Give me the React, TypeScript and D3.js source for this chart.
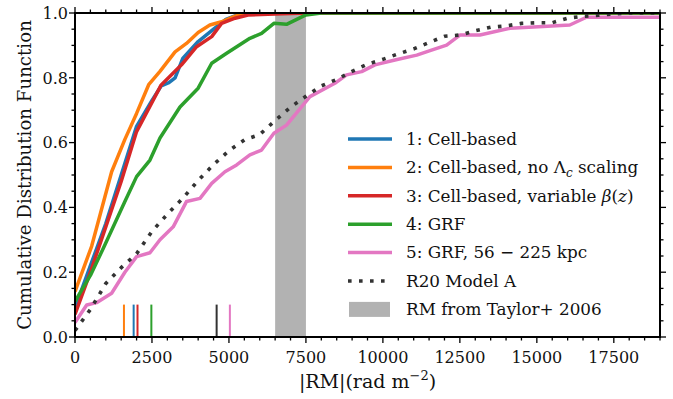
import React from "react";
import * as d3 from "d3";

// |RM| (rad m^-2) vs cumulative fraction
const cellBased: [number, number][] = [
  [0, 0.09], [500, 0.22], [1000, 0.35], [1500, 0.5], [2000, 0.65], [2500, 0.73],
  [2800, 0.775], [3050, 0.785], [3250, 0.8], [3500, 0.86], [4000, 0.912],
  [4500, 0.95], [4900, 0.98], [5300, 0.995], [5700, 1.0], [19000, 1.0],
];
const cellNoScaling: [number, number][] = [
  [0, 0.14], [540, 0.28], [1190, 0.51], [1620, 0.61], [2000, 0.69], [2400, 0.78],
  [2760, 0.82], [3250, 0.88], [3620, 0.906], [4000, 0.94], [4380, 0.963],
  [4760, 0.973], [5200, 0.99], [5600, 1.0], [19000, 1.0],
];
const cellVarBeta: [number, number][] = [
  [0, 0.07], [500, 0.2], [1000, 0.34], [1500, 0.48], [2000, 0.634], [2800, 0.778],
  [3460, 0.84], [3950, 0.896], [4440, 0.927], [4760, 0.968], [5200, 0.984],
  [5620, 0.994], [6500, 0.997], [7500, 1.0], [19000, 1.0],
];
const grf: [number, number][] = [
  [0, 0.11], [500, 0.19], [920, 0.274], [1620, 0.418], [2000, 0.495], [2435, 0.546],
  [2760, 0.614], [3410, 0.71], [4000, 0.768], [4440, 0.845], [4925, 0.876],
  [5680, 0.922], [6060, 0.937], [6460, 0.968], [6870, 0.965], [7500, 0.994],
  [8000, 1.0], [19000, 1.0],
];
const grfKpc: [number, number][] = [
  [0, 0.045], [380, 0.099], [700, 0.106], [1190, 0.135], [1620, 0.2], [2000, 0.248],
  [2435, 0.26], [2760, 0.3], [3190, 0.34], [3620, 0.418], [4060, 0.428],
  [4440, 0.474], [4870, 0.51], [5250, 0.531], [5680, 0.562], [6060, 0.577],
  [6460, 0.629], [6870, 0.654], [7630, 0.742], [8440, 0.783], [8820, 0.809],
  [9310, 0.819], [9740, 0.84], [10390, 0.855], [11100, 0.87], [11530, 0.884],
  [12070, 0.901], [12500, 0.932], [13150, 0.932], [14130, 0.953], [15200, 0.958],
  [16070, 0.963], [16610, 0.987], [19000, 0.987],
];
const r20ModelA: [number, number][] = [
  [0, 0.02], [500, 0.085], [1000, 0.165], [1500, 0.214], [2000, 0.257],
  [2500, 0.326], [3000, 0.379], [3500, 0.428], [4000, 0.483], [4500, 0.532],
  [5000, 0.575], [5500, 0.608], [6000, 0.625], [6500, 0.668], [7000, 0.709],
  [7500, 0.743], [8000, 0.775], [8500, 0.795], [9000, 0.82], [9500, 0.842],
  [10000, 0.857], [10500, 0.874], [11000, 0.889], [11500, 0.909], [12000, 0.928],
  [12500, 0.932], [13000, 0.945], [13500, 0.956], [14000, 0.96], [14500, 0.968],
  [15000, 0.97], [15500, 0.97], [16000, 0.984], [16500, 0.99], [17000, 0.993],
  [17500, 0.997], [18000, 1.0], [19000, 1.0],
];

// median markers along the bottom
const medians = [1905, 1590, 2030, 2480, 5030, 4600];
const taylorRange = [6500, 7500];

const seriesColors = ["#1f77b4", "#ff7f0e", "#d62728", "#2ca02c", "#e377c2", "#333333"];
const seriesData = [cellBased, cellNoScaling, cellVarBeta, grf, grfKpc, r20ModelA];

const xMajor = [0, 2500, 5000, 7500, 10000, 12500, 15000, 17500];
const yMajor = [0, 0.2, 0.4, 0.6, 0.8, 1.0];

const W = 673;
const H = 399;
const margin = { left: 75, right: 13, top: 13, bottom: 62 };
const font = "DejaVu Serif";

export default function App() {
  const x = d3.scaleLinear().domain([0, 19000]).range([margin.left, W - margin.right]);
  const y = d3.scaleLinear().domain([0, 1]).range([H - margin.bottom, margin.top]);
  const [x0, x1] = x.range();
  const [yb, yt] = y.range();

  const line = d3
    .line<[number, number]>()
    .x((d) => x(d[0]))
    .y((d) => y(d[1]));

  const xMinor = d3.range(0, 19001, 500);
  const yMinor = d3.range(0, 1.0001, 0.05);

  const legendX = 348;
  const legendY = 139;
  const rowH = 28.4;

  return (
    <svg
      width={W}
      height={H}
      style={{ position: "absolute", left: 0, top: 0, background: "#fff", fontFamily: font }}
    >
      <defs>
        <clipPath id="plot">
          <rect x={x0} y={yt} width={x1 - x0} height={yb - yt} />
        </clipPath>
      </defs>

      <rect
        x={x(taylorRange[0])}
        y={yt}
        width={x(taylorRange[1]) - x(taylorRange[0])}
        height={yb - yt}
        fill="#b2b2b2"
      />

      {medians.map((m, i) => (
        <line
          key={i}
          x1={x(m)}
          x2={x(m)}
          y1={y(0)}
          y2={y(0.1)}
          stroke={seriesColors[i]}
          strokeWidth={2}
        />
      ))}

      <g clipPath="url(#plot)">
        {seriesData.map((d, i) => (
          <path
            key={i}
            d={line(d) ?? ""}
            fill="none"
            stroke={seriesColors[i]}
            strokeWidth={i === 5 ? 3.6 : 3.5}
            strokeDasharray={i === 5 ? "3.6 7.4" : undefined}
            strokeLinejoin="round"
          />
        ))}
      </g>

      {/* frame and ticks on all four sides, pointing out */}
      <rect x={x0} y={yt} width={x1 - x0} height={yb - yt} fill="none" stroke="#000" strokeWidth={2} />
      {xMinor.map((v) => {
        const major = v % 2500 === 0;
        const len = major ? 6 : 3.5;
        return (
          <g key={"xt" + v} stroke="#000" strokeWidth={1.3}>
            <line x1={x(v)} x2={x(v)} y1={yb} y2={yb + len} />
            <line x1={x(v)} x2={x(v)} y1={yt} y2={yt - len} />
          </g>
        );
      })}
      {yMinor.map((v) => {
        const major = Math.abs(v * 5 - Math.round(v * 5)) < 1e-6;
        const len = major ? 6 : 3.5;
        return (
          <g key={"yt" + v} stroke="#000" strokeWidth={1.3}>
            <line x1={x0} x2={x0 - len} y1={y(v)} y2={y(v)} />
            <line x1={x1} x2={x1 + len} y1={y(v)} y2={y(v)} />
          </g>
        );
      })}

      {xMajor.map((v) => (
        <text key={"xl" + v} x={x(v)} y={363} textAnchor="middle" fontSize={16} fill="#111">
          {v}
        </text>
      ))}
      {yMajor.map((v) => (
        <text
          key={"yl" + v}
          x={x0 - 7}
          y={y(v)}
          dy="0.36em"
          textAnchor="end"
          fontSize={16}
          fill="#111"
        >
          {v.toFixed(1)}
        </text>
      ))}

      <text x={(x0 + x1) / 2} y={388} textAnchor="middle" fontSize={19} fill="#111">
        |RM|(rad m<tspan dy={-8} fontSize={13}>−2</tspan>
        <tspan dy={8}>)</tspan>
      </text>
      <text
        transform={`translate(31, ${(yt + yb) / 2}) rotate(-90)`}
        textAnchor="middle"
        fontSize={18.2}
        fill="#111"
      >
        Cumulative Distribution Function
      </text>

      {/* legend */}
      <g fontSize={16.8} fill="#111">
        {seriesColors.map((c, i) => (
          <line
            key={"lg" + i}
            x1={legendX}
            x2={legendX + 44}
            y1={legendY + i * rowH}
            y2={legendY + i * rowH}
            stroke={c}
            strokeWidth={3.5}
            strokeDasharray={i === 5 ? "3.6 7.4" : undefined}
          />
        ))}
        <rect x={legendX + 1} y={legendY + 6 * rowH - 7.5} width={41} height={15} fill="#b2b2b2" />
        <text x={406} y={legendY + 0 * rowH} dy="0.35em">1: Cell-based</text>
        <text x={406} y={legendY + 1 * rowH} dy="0.35em">
          2: Cell-based, no Λ<tspan fontStyle="italic" fontSize={12} dy={4}>c</tspan>
          <tspan dy={-4}> scaling</tspan>
        </text>
        <text x={406} y={legendY + 2 * rowH} dy="0.35em">
          3: Cell-based, variable <tspan fontStyle="italic">β</tspan>(<tspan fontStyle="italic">z</tspan>)
        </text>
        <text x={406} y={legendY + 3 * rowH} dy="0.35em">4: GRF</text>
        <text x={406} y={legendY + 4 * rowH} dy="0.35em">5: GRF, 56 − 225 kpc</text>
        <text x={406} y={legendY + 5 * rowH} dy="0.35em">R20 Model A</text>
        <text x={406} y={legendY + 6 * rowH} dy="0.35em">RM from Taylor+ 2006</text>
      </g>
    </svg>
  );
}
